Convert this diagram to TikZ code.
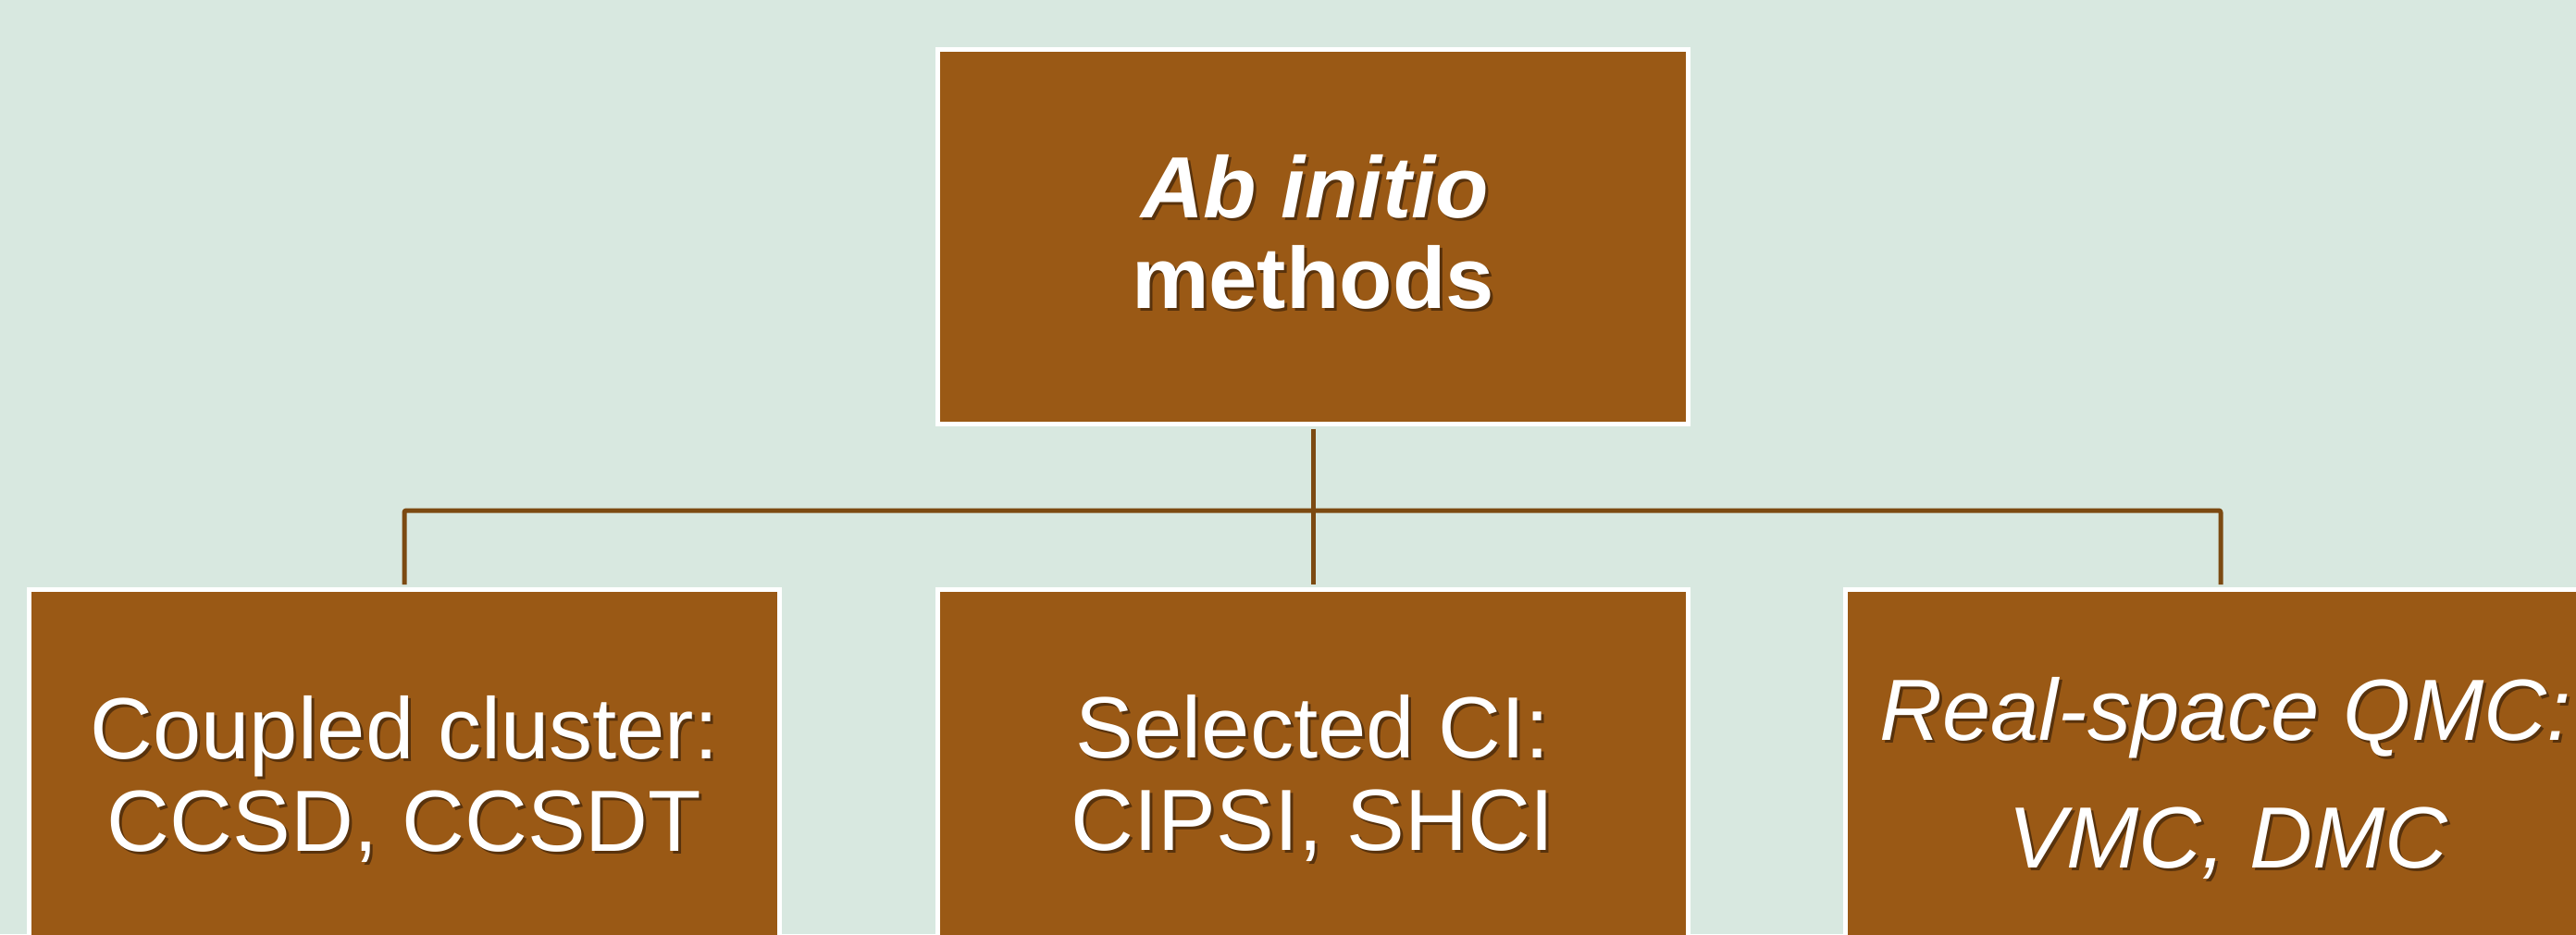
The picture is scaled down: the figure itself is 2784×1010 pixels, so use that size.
\documentclass[tikz,border=0pt]{standalone}
\usepackage{fontspec}
\setmainfont{Liberation Sans}
\definecolor{bgmint}{RGB}{216,232,224}
\definecolor{boxbrown}{RGB}{154,89,21}
\definecolor{linkbrown}{RGB}{124,74,18}
\definecolor{shadebrown}{RGB}{88,50,12}
% white text with a dark drop shadow below and to the right
\newcommand\dropsh[1]{\makebox[0pt][l]{\hspace*{3pt}\raisebox{-3pt}{\textcolor{shadebrown}{#1}}}#1}
\begin{document}
\begin{tikzpicture}[x=1pt,y=-1pt,
  box/.style={rectangle,draw=white,line width=5pt,fill=boxbrown,inner sep=0pt,minimum width=811pt},
  link/.style={draw=linkbrown,line width=5pt,line join=round,rounded corners=2pt},
  txt/.style={text=white,inner sep=0pt,anchor=base,font=\fontsize{94}{100}\selectfont}]
\useasboundingbox (0,0) rectangle (2784,1010);
\fill[bgmint] (0,0) rectangle (2784,1010);
\clip (0,0) rectangle (2784,1010);

% boxes
\node[box,minimum height=405pt] (top) at (1419,256) {};
\node[box,minimum height=463pt] (cc)  at (437,868.5) {};
\node[box,minimum height=463pt] (sci) at (1419,868.5) {};
\node[box,minimum height=463pt] (qmc) at (2400,868.5) {};

% connectors
\coordinate (bus) at (1419,552);
\draw[link] ([yshift=-2.5pt]top.south) -- (bus) -- ([yshift=2.5pt]sci.north);
\draw[link] ([yshift=2.5pt]cc.north) -- (cc.north |- bus) -- (qmc.north |- bus) -- ([yshift=2.5pt]qmc.north);

% texts
\node[txt] (topA) at (1421,235) {\dropsh{\bfseries\itshape Ab initio}};
\node[txt] (topB) at (1419,333) {\dropsh{\bfseries methods}};
\node[txt] (ccA) at (437,820) {\dropsh{Coupled cluster:}};
\node[txt] (ccB) at (437,920) {\dropsh{CCSD, CCSDT}};
\node[txt] (sciA) at (1419,819) {\dropsh{Selected CI:}};
\node[txt] (sciB) at (1419,919) {\dropsh{CIPSI, SHCI}};
\node[txt] (qmcA) at (2405,800) {\dropsh{\itshape Real-space QMC:}};
\node[txt] (qmcB) at (2408,938) {\dropsh{\itshape VMC, DMC}};
\end{tikzpicture}
\end{document}
